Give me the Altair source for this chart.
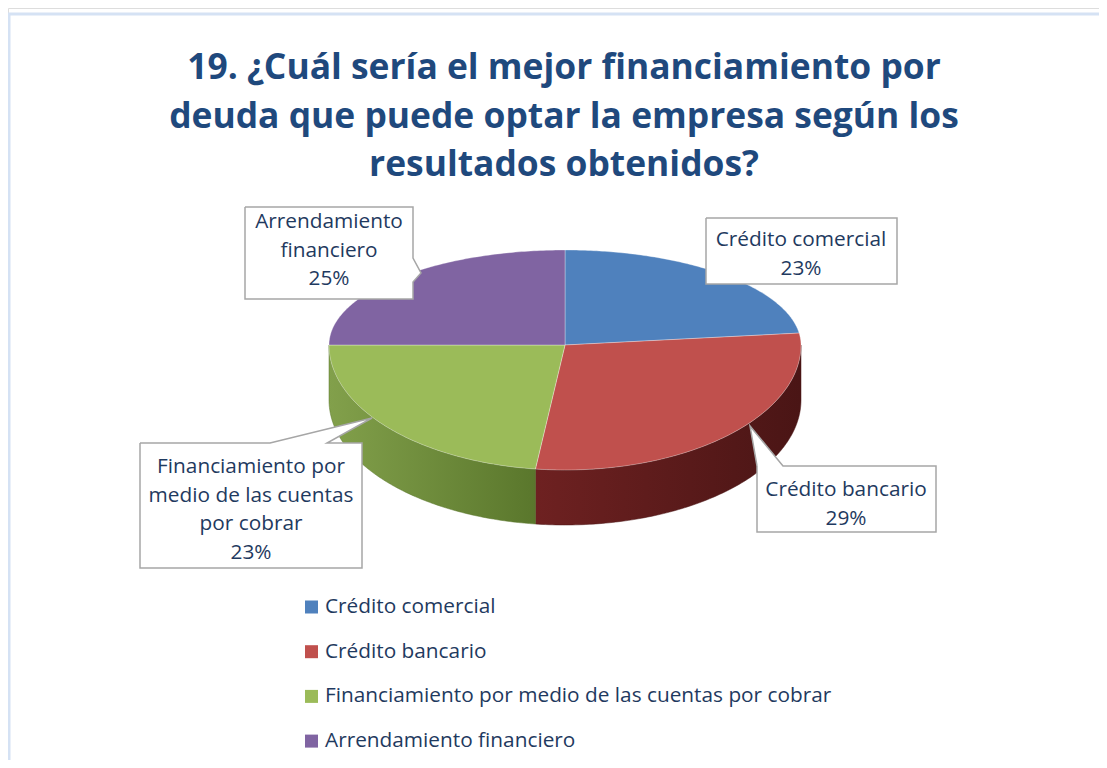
import numpy as np
import pandas as pd
import altair as alt

# ---------------- data ----------------
categories = [
    "Crédito comercial",
    "Crédito bancario",
    "Financiamiento por medio de las cuentas por cobrar",
    "Arrendamiento financiero",
]
values = [23, 29, 23, 25]
colors = ["#4f81bd", "#c0504d", "#9bbb59", "#8064a2"]
side_light = ["#36598a", "#6e2121", "#82a04b", "#56406f"]
side_dark = ["#2a4670", "#4a1515", "#5a772c", "#44325a"]
label_names = [
    ["Crédito comercial"],
    ["Crédito bancario"],
    ["Financiamiento por", "medio de las cuentas", "por cobrar"],
    ["Arrendamiento", "financiero"],
]
title_lines = [
    "19. ¿Cuál sería el mejor financiamiento por",
    "deuda que puede optar la empresa según los",
    "resultados obtenidos?",
]

# ---------------- layout (page pixel space) ----------------
W, H = 1091, 752
CX, CY, RX, RYB, RYF, DEPTH = 565, 345, 236, 95, 125, 55
TEXT_COLOR = "#1f3a60"
TITLE_COLOR = "#1f497d"
FONT = "Open Sans"
LABEL_SIZE = 20.8

xs = alt.Scale(domain=[8, 8 + W], range=[0, W])
ys = alt.Scale(domain=[8, 8 + H], range=[0, H])


def rim(t):
    ry = RYB if np.cos(t) > 0 else RYF
    return CX + RX * np.sin(t), CY - ry * np.cos(t)


total = sum(values)
cum = np.cumsum([0] + values) / total * 2 * np.pi
top_rows = []
side_layers = []
enc_xy = dict(
    x=alt.X("x:Q", scale=xs, axis=None),
    y=alt.Y("y:Q", scale=ys, axis=None),
    order="k:Q",
    detail="cat:N",
)
for i, cat in enumerate(categories):
    a, b = cum[i], cum[i + 1]
    n = 120
    ts = np.linspace(a, b, n)
    pts = [(CX, CY)] + [rim(t) for t in ts] + [(CX, CY)]
    for k, (x, y) in enumerate(pts):
        top_rows.append(dict(cat=cat, x=x, y=y, k=k))
    lo, hi = max(a, np.pi / 2), min(b, 3 * np.pi / 2)
    if hi > lo:
        ts = np.linspace(lo, hi, n)
        r = [rim(t) for t in ts]
        pts = r + [(x, y + DEPTH) for x, y in r[::-1]] + [r[0]]
        sdf = pd.DataFrame([dict(cat=cat, x=x, y=y, k=k) for k, (x, y) in enumerate(pts)])
        # left/right shading of the visible wall
        left_c, right_c = (side_light[i], side_dark[i])
        grad = alt.Gradient(
            gradient="linear",
            stops=[alt.GradientStop(color=left_c, offset=0), alt.GradientStop(color=right_c, offset=1)],
            x1=0, x2=1, y1=0, y2=0,
        )
        side_layers.append(
            alt.Chart(sdf).mark_line(fill=grad, stroke=side_dark[i], strokeWidth=0.5).encode(**enc_xy)
        )
top_df = pd.DataFrame(top_rows)

top = alt.Chart(top_df).mark_line(stroke="#ffffff", strokeWidth=0.7, strokeOpacity=0.45).encode(
    fill=alt.Fill("cat:N", scale=alt.Scale(domain=categories, range=colors), legend=None),
    **enc_xy,
)

# ---------------- callouts ----------------
callout_boxes = {
    "Arrendamiento financiero": [(245, 207), (413, 207), (413, 258), (421, 273), (413, 282), (413, 299), (245, 299), (245, 207)],
    "Crédito comercial": [(706, 218), (897, 218), (897, 284), (706, 284), (706, 218)],
    "Crédito bancario": [(757, 466), (750, 426), (783, 466), (936, 466), (936, 532), (757, 532), (757, 466)],
    "Financiamiento por medio de las cuentas por cobrar": [(140, 443), (270, 443), (372, 418), (327, 443), (362, 443), (362, 568), (140, 568), (140, 443)],
}
label_anchor = {
    "Arrendamiento financiero": (329, 222),
    "Crédito comercial": (801, 240),
    "Crédito bancario": (846, 490),
    "Financiamiento por medio de las cuentas por cobrar": (251, 467),
}
LINE_STEP = 28.5

box_rows, text_rows = [], []
for i, cat in enumerate(categories):
    for k, (x, y) in enumerate(callout_boxes[cat]):
        box_rows.append(dict(cat=cat, x=x, y=y, k=k))
    lines = label_names[i] + [f"{values[i]}%"]
    x0, y0 = label_anchor[cat]
    for j, ln in enumerate(lines):
        text_rows.append(dict(x=x0, y=y0 + j * LINE_STEP, t=ln))
box_df = pd.DataFrame(box_rows)
text_df = pd.DataFrame(text_rows)

boxes = alt.Chart(box_df).mark_line(fill="#ffffff", stroke="#a6a6a6", strokeWidth=1.5).encode(**enc_xy)
labels = alt.Chart(text_df).mark_text(font=FONT, fontSize=LABEL_SIZE, color=TEXT_COLOR, baseline="middle").encode(
    x=alt.X("x:Q", scale=xs, axis=None), y=alt.Y("y:Q", scale=ys, axis=None), text="t:N"
)

# ---------------- legend ----------------
LEG_X, LEG_Y0, LEG_STEP = 311.5, 607, 44.7
leg_df = pd.DataFrame({"cat": categories, "y": [LEG_Y0 + i * LEG_STEP for i in range(len(categories))]})
leg_sq = alt.Chart(leg_df).mark_square(size=169, opacity=1).encode(
    x=alt.value(LEG_X - 8),
    y=alt.Y("y:Q", scale=ys, axis=None),
    fill=alt.Fill("cat:N", scale=alt.Scale(domain=categories, range=colors), legend=None),
)
leg_tx = alt.Chart(leg_df).mark_text(font=FONT, fontSize=LABEL_SIZE, color=TEXT_COLOR, align="left", baseline="middle").encode(
    x=alt.value(325 - 8), y=alt.Y("y:Q", scale=ys, axis=None), text="cat:N"
)

# ---------------- title & frame ----------------
title_df = pd.DataFrame({"t": title_lines, "y": [68, 116.5, 165], "x": [564, 564, 564]})
title = alt.Chart(title_df).mark_text(font=FONT, fontSize=35.4, fontWeight="bold", color=TITLE_COLOR, baseline="middle").encode(
    x=alt.X("x:Q", scale=xs, axis=None), y=alt.Y("y:Q", scale=ys, axis=None), text="t:N"
)
frame = alt.Chart(pd.DataFrame({"a": [0]})).mark_rect(fill=None, stroke="#d5e2f4", strokeWidth=3).encode(
    x=alt.value(1), x2=alt.value(1200), y=alt.value(6), y2=alt.value(900)
)

chart = alt.layer(frame, title, *side_layers, top, boxes, labels, leg_sq, leg_tx).resolve_scale(
    fill="independent", stroke="independent"
).properties(
    width=W, height=H, padding=0, autosize=alt.AutoSizeParams(type="none")
).configure_view(stroke=None).configure(background="#ffffff")

chart.save("out.html", embed_options={"renderer": "svg", "actions": False})
